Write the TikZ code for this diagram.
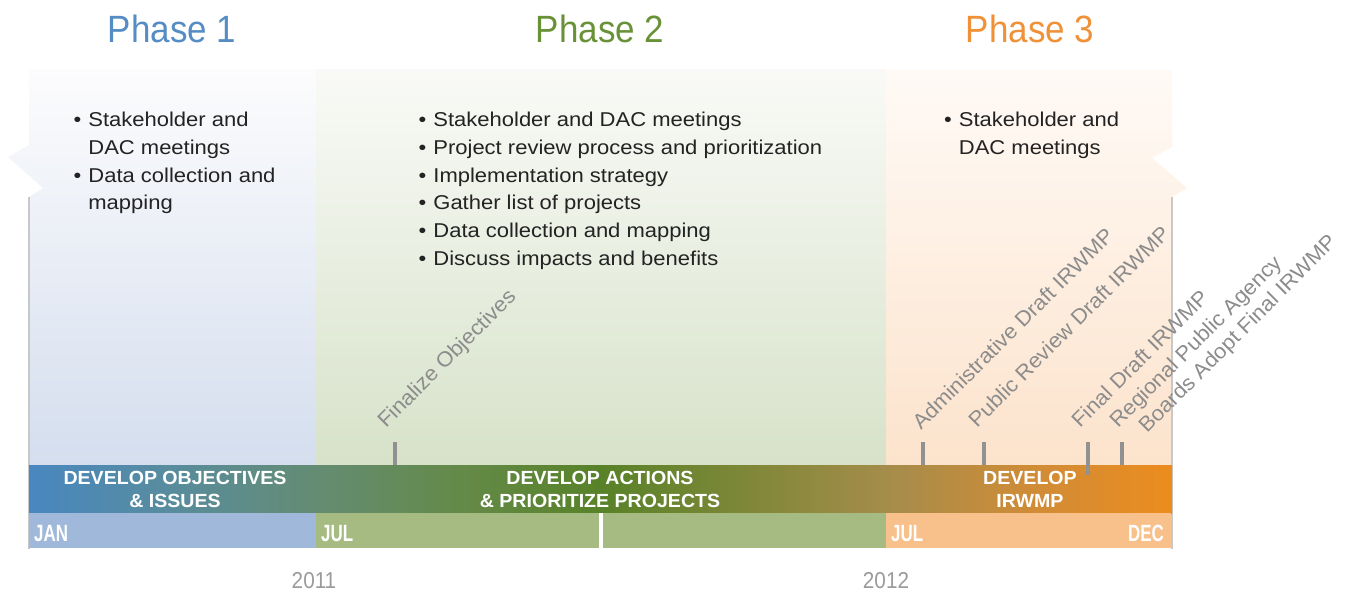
\documentclass[tikz,border=0pt]{standalone}
\usepackage{fontspec}
\setmainfont{Liberation Sans}
\newfontfamily\bodyfont{Liberation Sans}[FakeStretch=1.1]
\newfontfamily\milefont{Liberation Sans}[FakeStretch=1.05]
\newfontfamily\titlefont{Liberation Sans}[FakeStretch=0.92]
\newfontfamily\barfont{Liberation Sans}[FakeStretch=1.03]
\newfontfamily\monthfont{Liberation Sans}[FakeStretch=0.72]
\newfontfamily\yearfont{Liberation Sans}[FakeStretch=0.9]

\definecolor{ponecol}{RGB}{85,140,195}
\definecolor{ptwocol}{RGB}{105,145,55}
\definecolor{pthreecol}{RGB}{240,145,55}
\definecolor{ponetop}{RGB}{252,252,253}
\definecolor{ponebot}{RGB}{212,222,238}
\definecolor{ptwotop}{RGB}{249,250,247}
\definecolor{ptwobot}{RGB}{215,226,201}
\definecolor{pthreetop}{RGB}{255,250,246}
\definecolor{pthreebot}{RGB}{252,227,204}
\definecolor{stripone}{RGB}{160,185,218}
\definecolor{striptwo}{RGB}{165,187,130}
\definecolor{stripthree}{RGB}{248,192,138}
\definecolor{textdark}{RGB}{35,35,35}
\definecolor{milegray}{RGB}{140,140,140}
\definecolor{tickgray}{RGB}{145,145,145}
\definecolor{yeargray}{RGB}{155,155,155}
\definecolor{edgegray}{RGB}{200,200,200}
\definecolor{barA}{RGB}{72,135,192}
\definecolor{barB}{RGB}{88,140,158}
\definecolor{barC}{RGB}{100,140,115}
\definecolor{barD}{RGB}{100,138,72}
\definecolor{barE}{RGB}{88,130,40}
\definecolor{barF}{RGB}{125,135,55}
\definecolor{barG}{RGB}{165,140,75}
\definecolor{barH}{RGB}{208,140,55}
\definecolor{barI}{RGB}{236,140,30}

\pgfdeclarehorizontalshading{barshade}{100bp}{color(0bp)=(barA); color(25bp)=(barA); color(31.1bp)=(barB); color(37.5bp)=(barC); color(43.9bp)=(barD); color(50bp)=(barE); color(56.1bp)=(barF); color(62.5bp)=(barG); color(68.9bp)=(barH); color(75bp)=(barI); color(100bp)=(barI)}

\begin{document}
\begin{tikzpicture}[x=1pt,y=-1pt,
  phasetitle/.style={anchor=base,inner sep=0,font=\titlefont\fontsize{38}{40}\selectfont},
  listnode/.style={anchor=base west,inner sep=0,text=textdark,font=\bodyfont\fontsize{20}{27.7}\selectfont},
  bartext/.style={inner sep=0,align=center,text=white,font=\barfont\bfseries\fontsize{19}{23}\selectfont},
  monthtext/.style={inner sep=0,text=white,font=\monthfont\bfseries\fontsize{23.5}{24}\selectfont},
  yeartext/.style={anchor=base,inner sep=0,text=yeargray,font=\yearfont\fontsize{23}{24}\selectfont},
  miletext/.style={anchor=base west,inner sep=0,rotate=45,text=milegray,font=\milefont\fontsize{21}{22}\selectfont},
  tickline/.style={draw=tickgray,line width=3.5pt},
]
\useasboundingbox (0,0) rectangle (1353,594);
\fill[white] (0,0) rectangle (1353,594);

% panels
\shade[top color=ponetop,bottom color=ponebot]
  (29,70) -- (316,70) -- (316,465) -- (29,465) -- (29,197) -- (43,188) -- (8,157) -- (29,145) -- cycle;
\shade[top color=ptwotop,bottom color=ptwobot]
  (316,70) rectangle (886,465);
\shade[top color=pthreetop,bottom color=pthreebot]
  (886,70) -- (1172,70) -- (1172,147) -- (1152,158) -- (1187,188) -- (1172,197) -- (1172,465) -- (886,465) -- cycle;

% edges
\draw[edgegray,line width=1.2pt] (1172,197) -- (1172,549);
\draw[edgegray,line width=1.2pt] (29,197) -- (29,549);

% bar
\shade[shading=barshade] (29,465) rectangle (1172,513);
\fill[stripone] (29,513) rectangle (316,548);
\fill[striptwo] (316,513) rectangle (886,548);
\fill[stripthree] (886,513) rectangle (1171,548);
\fill[white] (598.5,513) rectangle (602.5,548);

% titles
\node[phasetitle,text=ponecol] (t1) at (172,43) {Phase 1};
\node[phasetitle,text=ptwocol] (t2) at (600,43) {Phase 2};
\node[phasetitle,text=pthreecol] (t3) at (1030,43) {Phase 3};

% lists
\node[listnode] (l1) at (73.5,126.7) {\begin{tabular}[t]{@{}l@{\hspace{7pt}}l@{}}
•&Stakeholder and\\ &DAC meetings\\ •&Data collection and\\ &mapping\end{tabular}};
\node[listnode] (l2) at (418.5,126.7) {\begin{tabular}[t]{@{}l@{\hspace{7pt}}l@{}}
•&Stakeholder and DAC meetings\\ •&Project review process and prioritization\\ •&Implementation strategy\\ •&Gather list of projects\\ •&Data collection and mapping\\ •&Discuss impacts and benefits\end{tabular}};
\node[listnode] (l3) at (944,126.7) {\begin{tabular}[t]{@{}l@{\hspace{7pt}}l@{}}
•&Stakeholder and\\ &DAC meetings\end{tabular}};

% bar texts
\node[bartext] (b1) at (175,489.5) {DEVELOP OBJECTIVES\\\& ISSUES};
\node[bartext] (b2) at (600,489.5) {DEVELOP ACTIONS\\\& PRIORITIZE PROJECTS};
\node[bartext] (b3) at (1030,489.5) {DEVELOP\\IRWMP};

% months
\node[monthtext,anchor=base west] (m1) at (34,541) {JAN};
\node[monthtext,anchor=base west] (m2) at (321,541) {JUL};
\node[monthtext,anchor=base west] (m3) at (891,541) {JUL};
\node[monthtext,anchor=base east] (m4) at (1164,541) {DEC};

% years
\node[yeartext] (y1) at (314,588) {2011};
\node[yeartext] (y2) at (886,588) {2012};

% ticks
\coordinate (fa) at (395,442); \coordinate (fb) at (395,465);
\coordinate (aa) at (923,442); \coordinate (ab) at (923,465);
\coordinate (pa) at (984,442); \coordinate (pb) at (984,465);
\coordinate (da) at (1088,442); \coordinate (db) at (1088,475);
\coordinate (ra) at (1122,442); \coordinate (rb) at (1122,465);
\draw[tickline] (fa) -- (fb);
\draw[tickline] (aa) -- (ab);
\draw[tickline] (pa) -- (pb);
\draw[tickline] (da) -- (db);
\draw[tickline] (ra) -- (rb);

% milestone labels
\node[miletext] (mf) at (386,429) {Finalize Objectives};
\node[miletext] (ma) at (921,431) {Administrative Draft IRWMP};
\node[miletext] (mp) at (977,429) {Public Review Draft IRWMP};
\node[miletext] (md) at (1080,429) {Final Draft IRWMP};
\node[miletext] (mr) at (1118,429) {Regional Public Agency};
\node[miletext] (mb) at (1147,434) {Boards Adopt Final IRWMP};
\end{tikzpicture}
\end{document}
